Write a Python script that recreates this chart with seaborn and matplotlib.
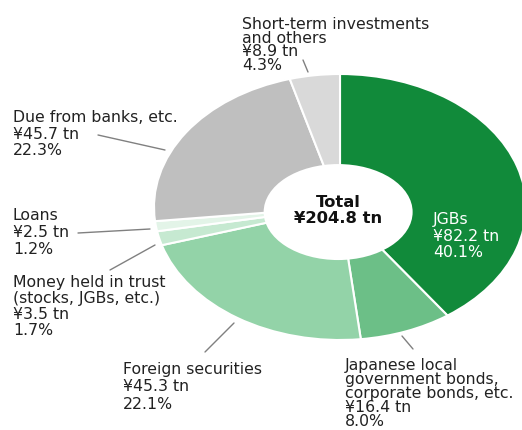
import matplotlib
matplotlib.use("Agg")
import matplotlib.pyplot as plt
from matplotlib.patches import Ellipse
import seaborn as sns

sns.set_theme(style="white")
plt.rcParams['font.family'] = ['DejaVu Sans', 'Noto Sans CJK JP']

# ---- data (clockwise from 12 o'clock) ----
categories = ["JGBs",
              "Japanese local\ngovernment bonds,\ncorporate bonds, etc.",
              "Foreign securities",
              "Money held in trust\n(stocks, JGBs, etc.)",
              "Loans",
              "Due from banks, etc.",
              "Short-term investments\nand others"]
values_tn = [82.2, 16.4, 45.3, 3.5, 2.5, 45.7, 8.9]
shares_pct = [40.1, 8.0, 22.1, 1.7, 1.2, 22.3, 4.3]
colors = ["#118A3A", "#6CBF87", "#93D3A8", "#C6E9D1", "#E3F4E8", "#BFBFBF", "#D9D9D9"]
total_label = "Total\n¥204.8 tn"

W, H = 522, 430
fig = plt.figure(figsize=(W / 100, H / 100), dpi=100)
fig.patch.set_facecolor("white")

# pie axes (elliptical donut)
cx, cy, a, b = 340, 207, 186, 133
pax = fig.add_axes([(cx - a) / W, (H - cy - b) / H, 2 * a / W, 2 * b / H])
pax.pie(values_tn, colors=colors, startangle=90, counterclock=False,
        radius=1.0, wedgeprops=dict(width=0.7, edgecolor="white", linewidth=1.5),
        frame=False)
pax.set_aspect("auto")
pax.set_xlim(-1, 1)
pax.set_ylim(-1, 1)
pax.axis("off")
# hole
pax.add_patch(Ellipse((-0.01, -0.038), 2 * 74.5 / a, 2 * 48 / b,
                      facecolor="white", edgecolor="none", zorder=5))

# overlay axes in pixel coordinates for labels
ax = fig.add_axes([0, 0, 1, 1])
ax.set_xlim(0, W)
ax.set_ylim(H, 0)
ax.axis("off")
ax.patch.set_alpha(0)

fs = 11.3
lab_col = "#222222"
line_col = "#808080"

def unit(size):
    return 0.93 * size * 100 / 72

def label(x, y, text, step, color=lab_col):
    ax.text(x, y, text, ha="left", va="top", fontsize=fs, color=color,
            linespacing=step / unit(fs))

def block(i):
    return f"{categories[i]}\n¥{values_tn[i]} tn\n{shares_pct[i]}%"

label(433, 212, block(0), 16.5, color="white")
label(345, 358, block(1), 13.5)
label(123, 362, block(2), 17.5)
label(13, 275, block(3), 16)
label(13, 208, block(4), 17)
label(13, 110, block(5), 16.5)
label(242, 17, block(6), 13)

ax.text(338, 195, total_label, ha="center", va="top", fontsize=11.8,
        fontweight="bold", color="#111111",
        linespacing=17 / unit(11.8))

leaders = [((402, 336), (413, 349)),
           ((205, 352), (234, 323)),
           ((110, 270), (155, 245)),
           ((78, 233), (150, 229)),
           ((98, 135), (165, 150)),
           ((303, 60), (308, 72))]
for (x0, y0), (x1, y1) in leaders:
    ax.plot([x0, x1], [y0, y1], color=line_col, lw=1)

fig.savefig("out.png", dpi=100)
